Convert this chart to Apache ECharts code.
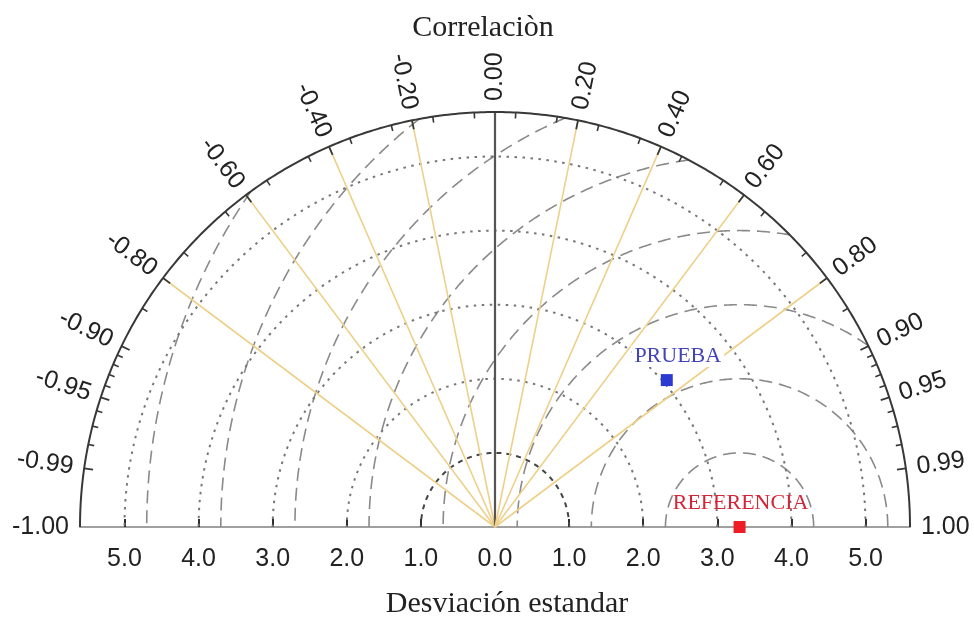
<!DOCTYPE html>
<html>
<head>
<meta charset="utf-8">
<script src="https://cdn.jsdelivr.net/npm/echarts@6/dist/echarts.min.js"></script>
<style>
  html, body { margin: 0; padding: 0; background: #ffffff; }
  #chart { width: 974px; height: 618px; }
</style>
</head>
<body>
<div id="chart"></div>
<script>
// Taylor diagram: radius = standard deviation, angle = acos(correlation)
const stdMax = 5.6;
const stdTickValues = [-5, -4, -3, -2, -1, 0, 1, 2, 3, 4, 5];
const stdArcs = [1, 2, 3, 4, 5];
const rmsArcs = [1, 2, 3, 4, 5, 6, 7, 8];
const corrRays = [-0.8, -0.6, -0.4, -0.2, 0, 0.2, 0.4, 0.6, 0.8];
const corrLabelValues = [-1, -0.99, -0.95, -0.9, -0.8, -0.6, -0.4, -0.2, 0, 0.2, 0.4, 0.6, 0.8, 0.9, 0.95, 0.99, 1];
const corrMinorTicks = [0.05, 0.15, 0.25, 0.35, 0.45, 0.55, 0.65, 0.75, 0.85, 0.91, 0.92, 0.93, 0.94, 0.96, 0.97, 0.98];
const corrMajorTicks = [0.2, 0.4, 0.6, 0.8, 0.9, 0.95, 0.99];
const modelNames = ['REFERENCIA', 'PRUEBA'];
const modelStd = [3.3, 3.05];
const modelCorr = [1.0, 0.76];

const markerColors = ['#ee1c25', '#2b3bd2'];
const nameColors = ['#d32636', '#4343b8'];
const numFont = '"Liberation Sans", Arial, sans-serif';
const serifFont = '"Liberation Serif", "Times New Roman", serif';

function toXY(std, corr) {
  return [std * corr, std * Math.sqrt(Math.max(0, 1 - corr * corr))];
}

// Half circles of constant std (centre 0) or constant RMS difference (centre = reference)
function arcSeries(values, centreStd, style) {
  return {
    type: 'custom',
    coordinateSystem: 'cartesian2d',
    silent: true,
    clip: false,
    z: 2,
    data: values.map(v => [v, 0]),
    renderItem(params, api) {
      const r = api.value(0);
      const c = centreStd;
      let start = 0;
      if (c + r > stdMax) {
        const cosA = (stdMax * stdMax - c * c - r * r) / (2 * c * r);
        start = Math.acos(Math.max(-1, Math.min(1, cosA)));
      }
      const pts = [];
      const n = 240;
      for (let i = 0; i <= n; i++) {
        const a = start + (Math.PI - start) * i / n;
        pts.push(api.coord([c + r * Math.cos(a), r * Math.sin(a)]));
      }
      const st = typeof style === 'function' ? style(r) : style;
      return { type: 'polyline', shape: { points: pts }, style: Object.assign({ fill: null }, st) };
    }
  };
}

// Ticks on the outer correlation arc
function tickSeries(values, len, color, width) {
  return {
    type: 'custom',
    coordinateSystem: 'cartesian2d',
    silent: true,
    clip: false,
    z: 5,
    data: values.map(v => [v, 0]),
    renderItem(params, api) {
      const c = api.value(0);
      const p0 = api.coord([0, 0]);
      const rpx = api.coord([stdMax, 0])[0] - p0[0];
      const a = Math.acos(c);
      const ca = Math.cos(a), sa = Math.sin(a);
      return {
        type: 'line',
        shape: {
          x1: p0[0] + rpx * ca, y1: p0[1] - rpx * sa,
          x2: p0[0] + (rpx - len) * ca, y2: p0[1] - (rpx - len) * sa
        },
        style: { stroke: color, lineWidth: width }
      };
    }
  };
}

const mirrored = arr => arr.concat(arr.map(v => -v));

const option = {
  backgroundColor: '#ffffff',
  animation: false,
  grid: { left: 80, right: 64, top: 112, bottom: 91, outerBoundsMode: 'none' },
  xAxis: {
    type: 'value',
    min: -stdMax,
    max: stdMax,
    splitLine: { show: false },
    axisLine: { show: true, lineStyle: { color: '#a0a0a0', width: 2 } },
    axisTick: {
      show: true,
      inside: true,
      length: 8,
      customValues: stdTickValues.filter(v => v !== 0),
      lineStyle: { color: '#2e2e2e', width: 2 }
    },
    axisLabel: {
      show: true,
      customValues: stdTickValues,
      formatter: v => Math.abs(v).toFixed(1),
      margin: 20,
      fontSize: 25,
      fontFamily: numFont,
      color: '#222222'
    }
  },
  yAxis: {
    type: 'value',
    min: 0,
    max: stdMax,
    show: false
  },
  graphic: [
    {
      type: 'text', x: 483, y: 28, silent: true,
      style: {
        text: 'Correlaciòn', font: '30px ' + serifFont, fill: '#222222',
        align: 'center', verticalAlign: 'middle', textAlign: 'center', textVerticalAlign: 'middle'
      }
    },
    {
      type: 'text', x: 507, y: 604, silent: true,
      style: {
        text: 'Desviación estandar', font: '30px ' + serifFont, fill: '#222222',
        align: 'center', verticalAlign: 'middle', textAlign: 'center', textVerticalAlign: 'middle'
      }
    }
  ],
  series: [
    // RMS-difference contours around the reference
    arcSeries(rmsArcs, modelStd[0], { stroke: '#8a8a8a', lineWidth: 1.6, lineDash: [13, 7] }),
    // standard deviation contours
    arcSeries(stdArcs, 0, r => r === 1
      ? { stroke: '#444444', lineWidth: 2, lineDash: [5, 5] }
      : { stroke: '#777777', lineWidth: 2, lineDash: [2.5, 5.5] }),
    // correlation rays
    {
      type: 'custom',
      coordinateSystem: 'cartesian2d',
      silent: true,
      clip: false,
      z: 3,
      data: corrRays.map(v => [v, 0]),
      renderItem(params, api) {
        const c = api.value(0);
        const p0 = api.coord([0, 0]);
        const p1 = api.coord(toXY(stdMax, c));
        const centre = c === 0;
        return {
          type: 'line',
          shape: { x1: p0[0], y1: p0[1], x2: p1[0], y2: p1[1] },
          style: { stroke: centre ? '#555555' : '#eed08a', lineWidth: centre ? 2.2 : 1.6 }
        };
      }
    },
    // outer correlation arc
    {
      type: 'custom',
      coordinateSystem: 'cartesian2d',
      silent: true,
      clip: false,
      z: 4,
      data: [[stdMax, 0]],
      renderItem(params, api) {
        const r = api.value(0);
        const pts = [];
        for (let i = 0; i <= 360; i++) {
          const a = Math.PI * i / 360;
          pts.push(api.coord([r * Math.cos(a), r * Math.sin(a)]));
        }
        return { type: 'polyline', shape: { points: pts }, style: { fill: null, stroke: '#383838', lineWidth: 2 } };
      }
    },
    tickSeries(mirrored(corrMinorTicks), 6, '#383838', 1.6),
    tickSeries(mirrored(corrMajorTicks), 9, '#383838', 1.8),
    // correlation labels, written along the radial direction
    {
      type: 'custom',
      coordinateSystem: 'cartesian2d',
      silent: true,
      clip: false,
      z: 6,
      data: corrLabelValues.map(v => [v, 0]),
      renderItem(params, api) {
        const c = api.value(0);
        const p0 = api.coord([0, 0]);
        const rpx = api.coord([stdMax, 0])[0] - p0[0] + 11;
        const a = Math.acos(c);
        const right = c >= 0;
        return {
          type: 'text',
          x: p0[0] + rpx * Math.cos(a),
          y: p0[1] - rpx * Math.sin(a),
          rotation: right ? a : a - Math.PI,
          style: {
            text: c.toFixed(2),
            x: 0, y: 0,
            font: '25px ' + numFont,
            fill: '#222222',
            align: right ? 'left' : 'right',
            textAlign: right ? 'left' : 'right',
            verticalAlign: 'middle',
            textVerticalAlign: 'middle'
          }
        };
      }
    },
    // reference and test points
    {
      type: 'scatter',
      symbol: 'rect',
      symbolSize: 12,
      clip: false,
      z: 10,
      itemStyle: { opacity: 1 },
      data: modelNames.map((name, i) => ({
        name: name,
        value: toXY(modelStd[i], modelCorr[i]),
        itemStyle: { color: markerColors[i], opacity: 1 },
        label: {
          show: true,
          position: 'top',
          distance: 7,
          offset: i === 1 ? [11, 0] : [1, 0],
          formatter: '{b}',
          fontFamily: serifFont,
          fontSize: 22,
          color: nameColors[i],
          opacity: 1,
          backgroundColor: i === 1 ? '#ffffff' : 'transparent',
          padding: i === 1 ? [0, 3, 0, 3] : 0
        }
      }))
    }
  ]
};

const chart = echarts.init(document.getElementById('chart'), null, { renderer: 'canvas' });
chart.setOption(option);
</script>
</body>
</html>
